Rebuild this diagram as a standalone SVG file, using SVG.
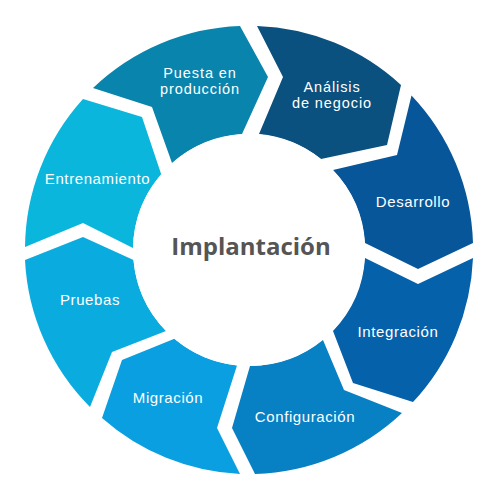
<svg xmlns="http://www.w3.org/2000/svg" width="500" height="500" viewBox="0 0 500 500">
  <style>
    .lbl { font-family: "Liberation Sans", Arial, sans-serif; font-size: 15px; letter-spacing: 0.6px; fill: #ffffff; text-anchor: middle; }
    .lbl2 { font-family: "Liberation Sans", Arial, sans-serif; font-size: 14.5px; letter-spacing: 0.9px; fill: #ffffff; text-anchor: middle; }
    .title { font-family: "Open Sans", "Liberation Sans", sans-serif; font-size: 24px; font-weight: bold; fill: #555555; text-anchor: middle; }
  </style>
  <rect width="500" height="500" fill="#ffffff"/>
  <g id="analisis">
    <path d="M259,134 L283,77 L257,26 A224,224 0 0 1 401,85 L387,145 L321,159 A116,116 0 0 0 259,134 Z" fill="#0a5180"/>
    <text class="lbl2" x="332" y="91.5">Análisis</text>
    <text class="lbl2" x="332" y="108">de negocio</text>
  </g>
  <g id="desarrollo">
    <path d="M333,170 L397,155 L411.5,95.5 A224,224 0 0 1 473,243 L418,269 L365,243 A116,116 0 0 0 333,170 Z" fill="#08569a"/>
    <text class="lbl" x="413" y="207">Desarrollo</text>
  </g>
  <g id="integracion">
    <path d="M365,258 L418,284 L473,258 A224,224 0 0 1 413,402 L353,383 L333,331 A116,116 0 0 0 365,258 Z" fill="#0561aa"/>
    <text class="lbl" x="398" y="337">Integración</text>
  </g>
  <g id="configuracion">
    <path d="M323,340 L344,390 L402,413 A224,224 0 0 1 255,474 L232,428 L250,366 A116,116 0 0 0 323,340 Z" fill="#0780c4"/>
    <text class="lbl" x="305" y="422">Configuración</text>
  </g>
  <g id="migracion">
    <path d="M237,365.5 L217,428 L240,474 A224,224 0 0 1 102,418 L122,360 L174.4,338.8 A116,116 0 0 0 237,365.5 Z" fill="#0a9fe0"/>
    <text class="lbl" x="168" y="403">Migración</text>
  </g>
  <g id="pruebas">
    <path d="M166,331 L112,352 L90,407 A224,224 0 0 1 25,260 L83,237 L133.5,260 A116,116 0 0 0 166,331 Z" fill="#0aacdf"/>
    <text class="lbl" x="90" y="305">Pruebas</text>
  </g>
  <g id="entrenamiento">
    <path d="M133,248 L83,223 L25,247 A224,224 0 0 1 83,99 L142,117 L161.2,174.3 A116,116 0 0 0 133,248 Z" fill="#0ab6db"/>
    <text class="lbl" x="97.5" y="184">Entrenamiento</text>
  </g>
  <g id="puesta">
    <path d="M172,163 L152,107 L93,88 A224,224 0 0 1 240,26 L268,77 L242,134 A116,116 0 0 0 172,163 Z" fill="#0884ad"/>
    <text class="lbl2" x="200" y="77.5">Puesta en</text>
    <text class="lbl2" x="200" y="94">producción</text>
  </g>
  <g id="implantacion">
    <circle cx="249" cy="250" r="116" fill="#ffffff"/>
    <text class="title" x="251" y="255">Implantación</text>
  </g>
  <g id="connectors"></g>
</svg>
